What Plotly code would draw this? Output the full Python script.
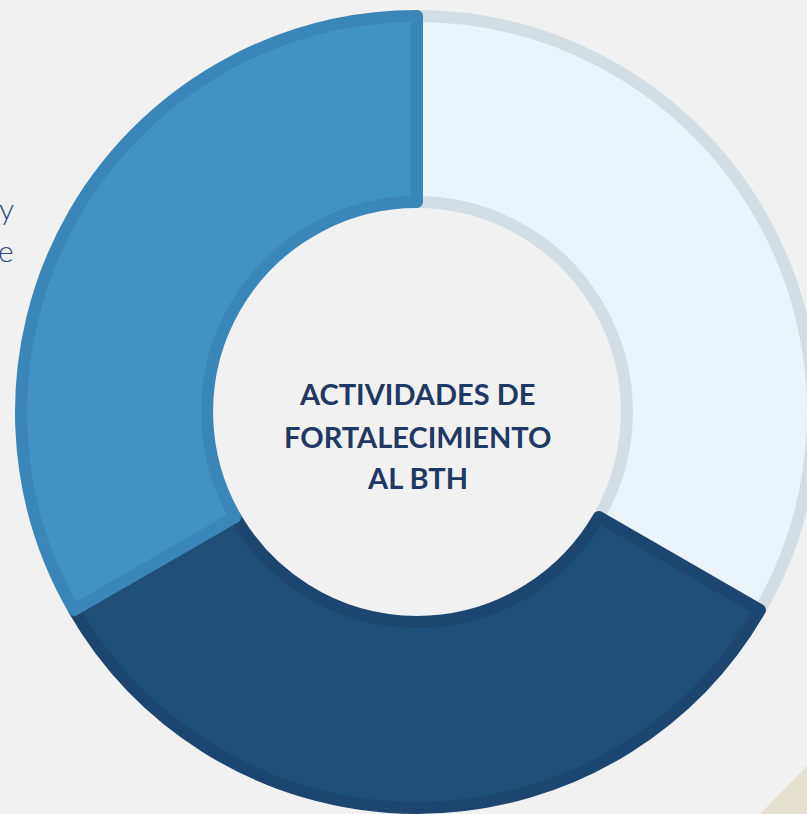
import plotly.graph_objects as go

# Data
segments = ["Segmento 1", "Segmento 2", "Segmento 3"]
values = [1, 1, 1]
fill_colors = ["#EAF4FA", "#1F4E79", "#4292C4"]
line_colors = ["#D2DDE4", "#1C4670", "#3A86B8"]
center_lines = ["ACTIVIDADES DE", "FORTALECIMIENTO", "AL BTH"]
side_fragments = ["y", "e"]

W, H = 832, 814
CX, CY, R, LW = 417, 412, 396, 12
fig = go.Figure()
fig.add_trace(go.Pie(
    labels=segments,
    values=values,
    hole=0.53,
    sort=False,
    direction="clockwise",
    rotation=0,
    textinfo="none",
    hoverinfo="skip",
    showlegend=False,
    marker=dict(colors=fill_colors, line=dict(color=line_colors, width=LW)),
    domain=dict(x=[(CX - R) / W, (CX + R) / W], y=[(H - CY - R) / H, (H - CY + R) / H]),
))

for line, yy in zip(center_lines, [393, 436, 477]):
    fig.add_annotation(
        text=line,
        x=CX / W, y=1 - yy / H, xref="paper", yref="paper",
        xanchor="center", yanchor="middle",
        showarrow=False,
        font=dict(family="Lato", size=29, color="#1F3864", weight="bold"),
    )
for frag, yy in zip(side_fragments, [208, 250]):
    fig.add_annotation(
        text=frag, x=16 / W, y=1 - yy / H, xref="paper", yref="paper",
        xanchor="right", yanchor="middle", showarrow=False,
        font=dict(family="Lato", size=30, color="#2B4A7E", weight=300),
    )

fig.add_shape(type="path", xref="paper", yref="paper",
              path=f"M {760/W} 0 L {807/W} {1-766/H} L 1 {1-766/H} L 1 0 Z",
              fillcolor="#E4E0D0", line=dict(width=0), layer="below")

fig.update_layout(
    width=W, height=H,
    margin=dict(l=0, r=0, t=0, b=0),
    paper_bgcolor="#F1F1F1",
    plot_bgcolor="#F1F1F1",
)

fig.write_html("out.html", config={"displayModeBar": False},
               post_script="document.body.style.margin='0';document.body.style.overflow='hidden';document.documentElement.style.overflow='hidden';")
